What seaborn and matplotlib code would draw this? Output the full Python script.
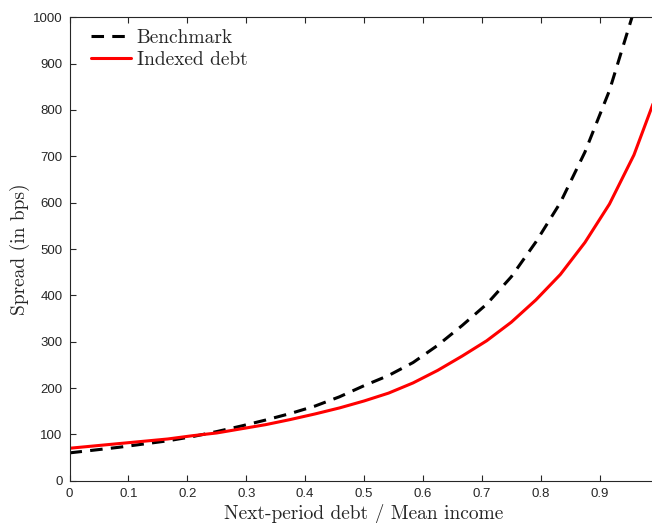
import numpy as np
import pandas as pd
import matplotlib
matplotlib.use("Agg")
import matplotlib.pyplot as plt
import seaborn as sns
from matplotlib.lines import Line2D

# grid of next-period debt / mean income (24 steps)
debt_ratio = [0.0, 0.0417, 0.0833, 0.125, 0.1667, 0.2083, 0.25, 0.2917, 0.3333,
              0.375, 0.4167, 0.4583, 0.5, 0.5417, 0.5833, 0.625, 0.6667, 0.7083,
              0.75, 0.7917, 0.8333, 0.875, 0.9167, 0.9583, 1.0]

# spreads in bps
benchmark = [60, 66, 72, 79, 86, 95, 106, 118, 131, 145, 161, 181, 205, 227,
             255, 292, 335, 381, 440, 515, 600, 709, 842, 1014, 1230]
indexed = [70, 75, 80, 85, 90, 97, 103, 112, 121, 132, 144, 157, 172, 189,
           211, 238, 269, 302, 342, 390, 445, 514, 597, 703, 845]

series_names = ["Benchmark", "Indexed debt"]
tick_x = [0, 0.1, 0.2, 0.3, 0.4, 0.5, 0.6, 0.7, 0.8, 0.9, 1.0]
# the label at 1 falls outside the cropped picture
tick_x_labels = ["0", "0.1", "0.2", "0.3", "0.4", "0.5", "0.6", "0.7", "0.8", "0.9", ""]
tick_y = list(range(0, 1001, 100))

df = pd.DataFrame({
    "x": debt_ratio * 2,
    "spread": benchmark + indexed,
    "series": [series_names[0]] * len(debt_ratio) + [series_names[1]] * len(debt_ratio),
})

sns.set_style("ticks")
plt.rcParams["font.family"] = ["Liberation Sans", "DejaVu Sans"]

fig = plt.figure(figsize=(6.52, 5.23), dpi=100)
ax = fig.add_axes([0.1066, 0.0809, 0.9034, 0.886])

sns.lineplot(data=df, x="x", y="spread", hue="series", style="series",
             palette={"Benchmark": "black", "Indexed debt": "#ff0000"},
             dashes={"Benchmark": (4.1, 2.7), "Indexed debt": ""},
             linewidth=2.2, ax=ax, legend=False, sort=False)

# legend made by hand so the order and style match
handles = [Line2D([], [], color="black", lw=2.2, dashes=(4.1, 2.7)),
           Line2D([], [], color="#ff0000", lw=2.2)]
leg = ax.legend(handles, series_names, loc="upper left", frameon=False,
                prop={"family": "cmr10", "size": 14}, handlelength=2.05,
                handletextpad=0.3, labelspacing=0.2,
                bbox_to_anchor=(0.007, 1.013), borderaxespad=0.5)

ax.set_xlim(0, 1)
ax.set_ylim(0, 1000)
ax.set_xticks(tick_x)
ax.set_xticklabels(tick_x_labels)
ax.set_yticks(tick_y)

ax.set_xlabel("Next-period debt / Mean income", fontfamily="cmr10", fontsize=14, labelpad=3)
ax.set_ylabel("Spread (in bps)", fontfamily="cmr10", fontsize=14, labelpad=2)

ax.tick_params(direction="in", length=4.5, width=0.8, colors="#262626",
               labelsize=9.5, top=True, right=True, pad=5)
for side in ["left", "bottom", "top", "right"]:
    ax.spines[side].set_visible(True)
    ax.spines[side].set_color("#262626")
    ax.spines[side].set_linewidth(0.8)

fig.savefig("out.png", dpi=100)
